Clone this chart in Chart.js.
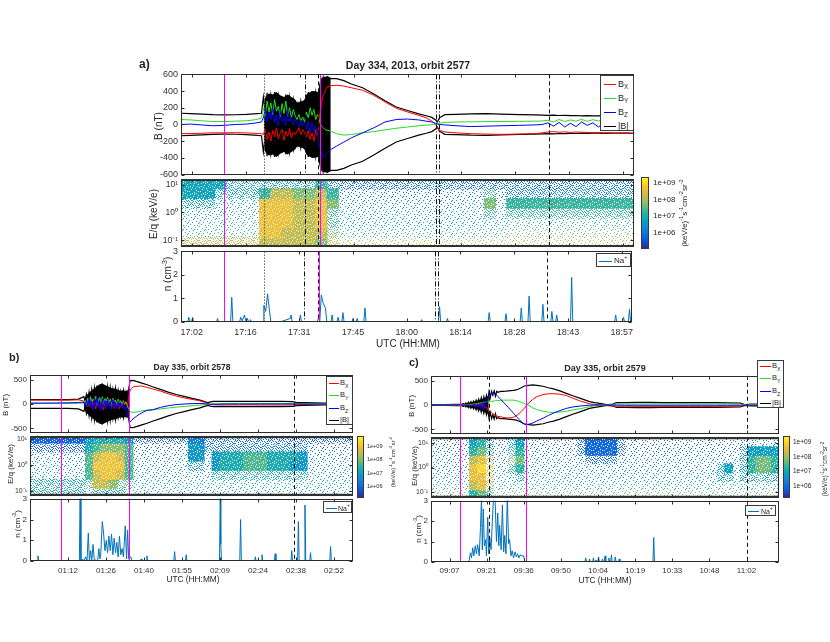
<!DOCTYPE html>
<html>
<head>
<meta charset="utf-8">
<title>Na+ observations, orbits 2577-2579</title>
<script src="https://cdn.jsdelivr.net/npm/chart.js@4.4.1/dist/chart.umd.min.js"></script>
<style>
  html, body { margin:0; padding:0; background:#fff; }
  #root { position:relative; width:830px; height:642px; overflow:hidden; background:#fff;
          font-family:"Liberation Sans", Arial, Helvetica, sans-serif; color:#262626; }
  #root canvas { position:absolute; }
  .tx { position:absolute; white-space:nowrap; line-height:1; }
  .ctr { transform:translate(-50%,-50%); }
  .lft { transform:translateY(-50%); }
  .rot { transform:translate(-50%,-50%) rotate(-90deg); }
  .lg { position:absolute; background:#fff; border:1px solid #3a3a3a; box-sizing:border-box; }
  .lg .sw { position:absolute; height:0; border-top-width:1.3px; border-top-style:solid; }
  .lg .lb { position:absolute; white-space:nowrap; line-height:1; transform:translateY(-50%); color:#262626; }
  sub, sup { font-size:70%; line-height:0; }
  .cb { position:absolute; border:1px solid #3a3a3a; box-sizing:border-box; }
</style>
</head>
<body>
<div id="root"></div>
<script>
// ======================= DATA =======================
// All times are minutes after 00:00 UTC of the given day.

// ---------- a) Day 334, 2013, orbit 2577 ----------
const tickTimesA  = [1022.4, 1036.8, 1051.2, 1065.6, 1080, 1094.4, 1108.8, 1123.2, 1137.6];
const tickLabelsA = ['17:02','17:16','17:31','17:45','18:00','18:14','18:28','18:43','18:57'];
const timeBA = [1019.5,1022,1025,1028,1031,1034,1037,1039,1041,
  1041.5,1042,1042.5,1043,1043.5,1044,1044.5,1045,1045.5,1046,1046.5,1047,1047.5,1048,1048.5,1049,1049.5,1050,
  1050.5,1051,1051.5,1052,1052.5,1053,1053.5,1054,1054.5,1055,1055.5,1056,
  1056.5,1057,1057.5,1058,1058.5,1059.5,
  1061,1063,1065,1068,1071,1074,1077,1080,1083,1085,1086.5,1087.5,1088,1088.5,
  1090,1093,1097,1101,1105,1110,1114,1116,
  1117.5,1119,1120.5,1122,1123.5,1125,1126.5,1128,1129.5,1131,1132.5,1134,1135.5,1137,1138.5,1140.5];
const bxA = [-110,-108,-105,-100,-100,-98,-100,-105,-110,
  -120,-60,-180,-90,-200,-70,-150,-40,-170,-100,-60,-190,-80,-140,-50,-160,-90,-120,
  -80,-40,-120,-60,-100,-150,-70,-180,-100,-200,-60,-150,
  100,250,350,400,450,465,
  470,460,440,410,350,270,195,150,110,80,40,0,-40,-70,
  -90,-100,-110,-115,-118,-115,-110,-100,
  -90,-85,-92,-88,-95,-90,-92,-95,-98,-95,-100,-98,-100,-102,-100,-105];
const byA = [60,55,45,35,35,40,45,55,75,
  200,100,280,150,260,120,300,160,220,90,250,130,280,100,200,80,180,100,
  60,120,40,90,30,150,80,200,110,180,60,120,
  40,-20,-40,-60,-70,-80,
  -110,-127,-120,-100,-85,-65,-45,-30,-15,-8,-2,5,10,15,
  25,30,32,35,36,38,40,42,
  50,30,60,35,55,40,62,38,58,42,60,36,55,45,50,40];
const bzA = [0,5,-5,-15,-10,0,5,15,30,
  80,180,30,150,60,200,20,120,-20,160,40,100,-10,170,30,90,0,60,
  20,-30,50,-20,30,-60,40,-100,20,-80,-20,-150,
  -250,-350,-390,-380,-350,-300,
  -260,-210,-160,-100,-40,30,60,65,55,40,30,15,5,0,
  -5,-15,-25,-20,-15,-10,-5,0,
  20,-20,25,-30,15,-25,30,-10,20,-30,25,-15,10,-20,15,5];
const btA = [135,130,125,118,115,117,122,128,135,
  330,140,380,120,350,150,390,110,340,160,300,130,360,140,330,120,300,150,
  250,120,280,110,260,130,390,150,400,120,380,200,
  450,250,560,430,575,550,
  550,525,485,440,365,285,210,168,128,105,85,55,30,80,
  118,122,128,130,125,118,115,112,
  110,112,108,110,106,108,104,106,104,104,106,104,105,104,103,105];
// outer envelope of the black |B| noise band (magnitude)
const envTimeA = [1041.6,1042,1043,1044,1045,1046,1047,1048,1049,1050,1050.5,1051,1052,1052.5,1053,1054,1055,1056,1056.5,1057,1058,1059.5];
const envA     = [250,330,370,360,390,350,330,360,330,300,260,270,280,300,360,390,400,390,420,560,575,550];
const markersA = [[1031.0,'mag'],[1041.7,'dot'],[1052.6,'dashdot'],[1056.2,'dash'],[1056.6,'mag'],
                  [1087.5,'dashdot'],[1088.4,'dashdot'],[1117.7,'dash']];
// spectrogram: 3-min bins from 16:59.5, rows = energy bands (top = highest)
// codes: '1'-'9' dense cell of flux level 1-9, 'A'-'I' medium density, 'a'-'i' sparse, '.' empty
const specA = [
  '4444DDD'+'DDD'+'DD5C'+'BBBBBBBBCBBBB'+'B'+'B'+'BBBBBBBBBBBB',
  '444DDDD'+'577'+'6675'+'bbbbbbbbbbbbb'+'E'+'b'+'CCCCCCCCCCCC',
  'DDDdddd'+'888'+'7786'+'ccccccccccccc'+'6'+'c'+'555555555555',
  'ddddddd'+'888'+'778E'+'ddddddddddddd'+'E'+'d'+'EEEEEEEEEEEE',
  'eeeeeee'+'888'+'778E'+'ddddddddddddd'+'d'+'d'+'eeeeeeeeeeee',
  'eeeeeee'+'887'+'777F'+'eeeeeeeeeeeee'+'e'+'e'+'ffffffffffff',
  'GGGGGGG'+'777'+'776G'+'ggggggggggggg'+'g'+'g'+'gggggggggggg'];
const densA = [[1019.5,0],[1021.3,0],[1021.6,0.2],[1021.9,0],[1022.3,0],[1022.6,0.2],[1022.9,0],
  [1029.0,0],[1029.3,0.15],[1029.6,0],[1032.8,0],[1033.1,1.05],[1033.4,0],
  [1035.2,0],[1035.5,0.2],[1035.9,0.05],[1036.5,0.3],[1036.9,0.05],[1037.3,0.15],[1037.6,0],
  [1037.9,0],[1038.1,0.1],[1038.4,0],
  [1041.5,0],[1041.7,0.7],[1042.2,0.45],[1042.7,1.2],[1043.2,0.5],[1043.6,0],
  [1046.0,0],[1048.8,0.15],[1049.0,0.3],[1049.3,0],[1051.2,0],[1051.5,0.3],[1051.8,0],
  [1056.0,0],[1056.3,0.15],[1056.7,0.05],[1057.1,1.15],[1057.6,0.8],[1058.2,0.6],[1058.6,0],
  [1059.7,0],[1060.0,0.3],[1060.3,0],[1061.3,0],[1061.6,0.2],[1061.9,0],[1062.6,0],[1062.9,0.4],[1063.2,0],
  [1065.3,0],[1065.6,0.15],[1065.9,0],[1066.4,0],[1066.7,0.15],[1067.0,0],[1068.5,0],[1068.8,0.6],[1069.1,0],
  [1083.7,0],[1084.0,0.1],[1084.3,0],[1088.5,0],[1088.8,0.65],[1089.1,0],[1090.6,0],[1090.9,0.15],[1091.2,0],
  [1101.8,0],[1102.1,0.4],[1102.4,0],[1106.3,0],[1106.6,0.35],[1106.9,0],[1110.4,0],[1110.7,0.6],[1111.0,0],
  [1112.5,0],[1112.8,1.1],[1113.1,0],[1116.2,0],[1116.5,0.75],[1116.8,0],[1118.6,0],[1118.9,0.45],[1119.2,0],
  [1119.9,0],[1120.2,0.3],[1120.5,0],[1123.9,0],[1124.2,1.9],[1124.5,0],[1135.7,0],[1136.0,0.3],[1136.3,0],
  [1137.8,0],[1138.1,0.2],[1138.4,0],[1139.4,0],[1139.7,0.55],[1140.0,0],[1140.5,0]];

// ---------- b) Day 335, orbit 2578 ----------
const tickTimesB  = [72, 86.4, 100.8, 115.2, 129.6, 144, 158.4, 172.8];
const tickLabelsB = ['01:12','01:26','01:40','01:55','02:09','02:24','02:38','02:52'];
const timeBB = [57.6,62,67,72,76,
  78,78.5,79,79.5,80,80.5,81,81.5,82,82.5,83,83.5,84,84.5,85,85.5,86,86.5,87,87.5,88,88.5,89,89.5,90,90.5,91,91.5,92,92.5,93,93.5,94,94.5,95,
  95.5,96,97,98.5,100,102,
  104,107,110,113,116,119,122,124,125,126,127,129,
  133,137,141,145,149,153,157,158.5,161,165,169,173,177,180];
const bxB = [80,80,80,80,85,
  60,-20,100,-60,40,-80,120,-40,80,-100,50,-60,130,-80,60,-120,100,-50,80,-30,110,-70,40,-90,90,-40,60,-100,30,-60,80,-20,50,-80,150,
  270,320,360,365,370,340,
  310,265,210,165,125,95,65,30,10,-10,-15,-20,
  -20,-20,-18,-20,-20,-22,-20,-15,-10,-10,-8,-8,-5,-5];
const byB = [10,10,12,10,15,
  20,80,-10,120,40,150,0,100,60,160,-20,90,130,30,150,-30,110,60,140,20,90,-40,120,50,80,-20,100,30,70,-10,60,0,40,-30,-100,
  -160,-170,-170,-160,-140,-125,
  -120,-100,-82,-65,-50,-35,-22,-13,-5,0,5,8,
  8,8,8,10,10,10,10,8,6,5,5,4,3,3];
const bzB = [20,20,20,25,30,
  40,-60,90,-30,120,-80,60,-120,100,-50,140,-90,80,-140,110,-60,70,-110,100,-40,60,-120,90,-70,40,-100,60,-50,20,-80,30,-120,-60,-200,-300,
  -370,-340,-290,-230,-180,-130,
  -120,-70,-35,-12,0,8,10,5,0,-5,-5,-5,
  0,0,-2,0,0,0,0,0,0,0,0,0,0,0];
const btB = [90,90,90,90,100,
  150,60,200,70,250,80,300,60,330,90,380,70,400,100,420,80,380,100,350,70,340,110,300,80,320,100,280,90,260,110,280,90,250,120,300,
  480,485,480,455,430,395,
  355,300,245,195,155,115,78,45,30,45,55,55,
  55,55,55,55,52,52,50,35,30,25,20,20,15,15];
const envTimeB = [78,79,80,81,82,83,84,85,86,87,88,89,90,91,92,93,94,95,95.5];
const envB     = [110,180,230,280,320,370,400,420,390,360,340,320,320,290,270,280,260,300,420];
const markersB = [[69.4,'mag'],[95.0,'dash'],[95.3,'mag'],[157.8,'dash']];
// 3-min bins from 00:57.6
const specB = [
  '2222222'+'455554'+'BBBBBBB'+'33B'+'BBBBBBBBBBBB'+'BBBBBB',
  'BBBBBBB'+'567776'+'bbbbbbb'+'44C'+'CCCCCCCCCCCC'+'bbbbbb',
  'ccccccc'+'689986'+'ccccccc'+'44c'+'455566655554'+'cccccc',
  'ddddddd'+'699996'+'ddddddd'+'DDd'+'455566655544'+'dddddd',
  'ddddddd'+'689986'+'ddddddd'+'ddd'+'EEEEEEEEEEEE'+'dddddd',
  'EEEEEEE'+'F887FF'+'eeeeeee'+'eee'+'eeeeeeeeeeee'+'eeeeee',
  'EEEEEEE'+'eEEEEe'+'eeeeeee'+'eee'+'eeeeeeeeeeee'+'eeeeee'];
const densB = [[57.6,0],[60.3,0],[60.6,0.25],[60.9,0],[76.3,0],[76.6,3.4],[76.9,0],[77.5,0.1],[78.0,0],
  [78.7,0.2],[79.2,0],[79.7,1.35],[80.1,0],[80.6,0.5],[81.0,0],[81.5,0.8],[82.0,0],[82.4,0.05],[83.2,0],
  [83.7,0.6],[84.1,0.1],[84.4,0.3],[85.0,1.9],[85.5,1.3],[86.0,0.5],[86.5,1.0],[87.0,0.4],[87.5,1.2],
  [88.0,0.5],[88.5,1.3],[89.0,0.3],[89.5,1.1],[90.0,0.4],[90.5,0.9],[91.0,0.2],[91.5,1.2],[92.0,0.3],
  [92.5,0.6],[93.0,0.2],[93.7,1.7],[94.2,0.1],[94.6,1.5],[95.0,0.1],[95.8,0.2],[96.3,0],
  [99.4,0],[99.7,0.1],[100.0,0],[101.6,0],[101.9,0.25],[102.2,0],[112.1,0],[112.4,0.45],[112.7,0],
  [116.5,0],[116.8,0.3],[117.1,0],[129.4,0],[129.7,3.2],[129.9,0.8],[130.2,0],[137.1,0],[137.4,2.0],[137.7,0],
  [142.7,0],[143.0,0.2],[143.3,0],[145.2,0],[145.5,0.3],[145.8,0],[150.2,0],[150.5,0.35],[150.8,0],
  [156.5,0],[156.8,0.5],[157.1,0],[159.0,0],[159.3,1.9],[159.6,0],[161.5,0],[161.8,2.7],[162.1,0],
  [163.6,0],[163.9,0.4],[164.2,0],[171.2,0],[171.5,0.7],[171.8,0],[180,0]];

// ---------- c) Day 335, orbit 2579 ----------
const tickTimesC  = [547.2, 561.6, 576, 590.4, 604.8, 619.2, 633.6, 648, 662.4];
const tickLabelsC = ['09:07','09:21','09:36','09:50','10:04','10:19','10:33','10:48','11:02'];
const timeBC = [540,545,550,552,
  552.5,553,553.5,554,554.5,555,555.5,556,556.5,557,557.5,558,558.5,559,559.5,560,560.5,561,561.5,562,
  562.5,563,563.5,564,564.5,565,565.5,566,
  567,568,569,570,571,572,573,574,575,576,577,578,579.5,581,583.5,585.5,587.5,590,592.5,595,598,601.5,603.5,605.5,607,608,609,610.5,612,
  615,620,625,630,635,640,645,650,655,660,661.5,662.5,664,668,672,675];
const bxC = [0,0,0,0,
  5,-5,10,-10,15,-10,20,-15,30,-20,25,-30,35,-20,30,-40,20,-60,-40,-100,
  -120,-140,-160,-180,-200,-215,-225,-235,
  -240,-255,-262,-265,-262,-250,-225,-185,-135,-80,-15,45,115,170,215,230,233,222,195,140,80,25,10,0,-10,-15,-15,-20,-25,
  -25,-28,-28,-28,-28,-28,-28,-28,-25,-25,-10,-5,-10,-10,-8,-8];
const byC = [0,0,0,0,
  5,0,10,-5,15,0,20,5,30,10,40,0,50,20,60,30,70,40,60,70,
  60,70,80,70,90,85,90,90,
  95,100,100,100,100,100,90,75,55,35,10,-15,-60,-95,-130,-148,-153,-145,-130,-100,-75,-35,-15,-5,0,5,8,12,18,
  20,22,22,22,22,22,22,22,22,20,10,5,10,10,10,10];
const bzC = [0,0,0,0,
  -5,5,-10,5,-15,10,-20,5,-25,15,-40,20,-50,30,-80,50,-100,80,50,150,
  210,230,240,238,235,230,200,170,
  120,60,5,-50,-110,-170,-230,-290,-340,-385,-400,-395,-370,-330,-270,-215,-167,-115,-70,-40,-20,-5,0,2,2,0,0,0,-2,
  -5,-5,-5,-5,-5,-5,-5,-5,-5,-5,0,0,-5,-5,-5,-5];
const btC = [10,10,12,15,
  30,5,40,8,55,10,70,12,80,15,100,20,120,30,150,40,170,60,200,90,
  270,150,280,200,290,180,280,260,
  280,282,285,290,295,300,310,330,355,385,400,405,412,405,385,355,330,290,240,190,135,70,50,33,20,10,8,20,47,
  50,52,52,50,50,50,50,48,45,40,15,10,20,20,18,18];
const envTimeC = [552,553,554,555,556,557,558,559,560,561,562,562.4];
const envC     = [15,25,35,50,60,75,90,110,130,150,180,190];
const markersC = [[551.4,'mag'],[562.4,'dash'],[576.7,'mag'],[662.5,'dash']];
// 3-min bins from 09:00
const specC = [
  'bbbbb'+'45D'+'bb'+'D4'+'bbbbbbb'+'B2222B'+'bbbbbbbbbbbb'+'bb'+'b'+'bbccb',
  'bbbbb'+'56E'+'bb'+'E5'+'bbbbbbb'+'B2222B'+'bbbbbbbbbbbb'+'bb'+'b'+'C4444',
  'ccccc'+'78G'+'cc'+'F6'+'ccccccc'+'bBBBBb'+'cccccccccccc'+'cc'+'c'+'D5665',
  'ccccc'+'89H'+'cc'+'E5'+'ccccccc'+'cccccc'+'cccccccccccc'+'D4'+'c'+'D5665',
  'ddddd'+'88H'+'dd'+'dD'+'ddddddd'+'dddddd'+'dddddddddddd'+'DD'+'d'+'DDEDD',
  'eeeee'+'78G'+'ee'+'ee'+'eeeeeee'+'eeeeee'+'eeeeeeeeeeee'+'ee'+'e'+'eeeee',
  'fffff'+'56E'+'ff'+'ff'+'fffffff'+'ffffff'+'ffffffffffff'+'ff'+'f'+'fffff'];
const densC = [[540,0],[554.7,0],[555.3,0.45],[555.7,0.2],[556.2,0.7],[556.6,0.3],[557.2,0.8],[557.6,0.4],
  [558.1,0.85],[558.7,0.3],[559.2,1.7],[559.6,3.2],[559.9,0.6],[560.3,2.6],[560.7,0.8],[561.2,1.1],[561.5,0.3],
  [562.0,2.2],[562.4,0.4],[562.8,1.2],[563.3,0.6],[563.8,2.0],[564.3,3.3],[564.8,3.3],[565.4,1.0],[565.9,2.4],
  [566.3,0.8],[566.6,1.8],[567.2,0.6],[567.7,2.8],[568.2,0.5],[568.6,1.3],[569.1,0.4],[569.6,3.3],[570.1,0.9],
  [570.5,1.1],[571.0,0.3],[571.5,0.55],[572.0,0.2],[572.6,0.5],[573.1,0.25],[573.6,0.4],[574.1,0.2],[574.6,0.35],
  [575.3,0.3],[575.9,0.3],[576.4,0.05],[576.7,0],
  [599.7,0],[600.0,0.2],[600.4,0],[601.2,0],[601.5,0.15],[601.8,0],[602.7,0],[603.0,0.2],[603.3,0],[603.7,0],
  [604.0,0.1],[604.3,0],[604.7,0],[605.0,0.25],[605.3,0],[606.2,0],[606.5,0.15],[606.8,0],[607.2,0],[607.5,0.3],
  [607.8,0],[608.7,0],[609.0,0.2],[609.3,0],[609.7,0],[610.0,0.35],[610.3,0],[611.2,0],[611.5,0.25],[611.8,0],
  [612.7,0],[613.0,0.15],[613.3,0],[626.1,0],[626.4,1.2],[626.7,0],[653.5,0],[653.8,0.05],[654.1,0],
  [663.1,0],[663.4,0.05],[663.7,0],[675,0]];

// ---------- shared ----------
const ENERGY_EDGES = [1.2, 0.85, 0.5, 0.15, -0.2, -0.55, -0.9, -1.25];   // log10 keV/e, band edges
const LEVEL_LOGS = [5.5, 5.95, 6.4, 6.85, 7.3, 7.75, 8.2, 8.65, 9.1];    // log10 flux of levels 1..9
const specTicks = [0.1, 1, 10];
const specTickLabels = ['10\u207B\u00B9', '10\u2070', '10\u00B9'];
const densTicks = [0, 1, 2, 3];
const bTicksA = [-600, -400, -200, 0, 200, 400, 600];
const bTicksBC = [-500, 0, 500];
const cbarTicks = [6, 7, 8, 9];
const cbarLabels = ['1e+06', '1e+07', '1e+08', '1e+09'];

// ======================= STYLE =======================
const PARULA = [[0,[53,42,135]],[0.1,[20,80,220]],[0.2,[15,112,222]],[0.3,[18,138,210]],[0.4,[8,162,195]],
  [0.5,[38,180,165]],[0.6,[105,190,125]],[0.7,[175,190,85]],[0.8,[230,185,60]],[0.9,[252,205,45]],[1,[249,251,14]]];
// speckle tiles (11x11): dots drawn for sparse / medium cells, holes left white in dense cells
const DOTS_SPARSE = [[0,0],[7,1],[3,2],[9,3],[5,4],[1,5],[8,6],[4,7],[10,8],[2,9],[6,10],[0,7],[9,10],[6,3]];
const DOTS_MEDIUM = DOTS_SPARSE.concat([[2,0],[10,1],[5,1],[0,3],[8,2],[3,4],[10,5],[6,6],[1,8],[7,8],[4,9],
  [9,7],[2,6],[4,0],[8,4],[0,10],[5,8],[3,10],[10,3],[7,5],[1,1],[5,6],[8,9],[3,7]]);
const HOLES_DENSE = [[2,1],[8,0],[5,3],[0,5],[9,4],[3,7],[7,6],[1,9],[10,9],[6,10],[4,0],[8,8],[2,4],[6,1],[10,2],[4,5]];
const MARKER_STYLES = {
  mag: {color:'#ff00ff', dash:[], width:1},
  dash: {color:'#111', dash:[4,3], width:1},
  dashdot: {color:'#111', dash:[5,2,1,2], width:1},
  dot: {color:'#666', dash:[1.5,1.5], width:1}
};
const COLORS = {bx:'#ff0000', by:'#22dd22', bz:'#0000ff', bt:'#000000', n:'#0072BD'};

const root = document.getElementById('root');
Chart.defaults.font.family = '"Liberation Sans", Arial, Helvetica, sans-serif';
Chart.defaults.color = '#333';

function parula(t) {
  t = Math.max(0, Math.min(1, t));
  for (let i = 1; i < PARULA.length; i++) {
    if (t <= PARULA[i][0]) {
      const t0 = PARULA[i-1][0], c0 = PARULA[i-1][1], t1 = PARULA[i][0], c1 = PARULA[i][1];
      const f = (t - t0) / (t1 - t0);
      return c0.map((v, k) => Math.round(v + (c1[k] - v) * f));
    }
  }
  return PARULA[PARULA.length-1][1];
}
function makePattern(ctx, rgb, dens) {
  const t = document.createElement('canvas'); t.width = 11; t.height = 11;
  const g = t.getContext('2d'); g.fillStyle = 'rgb(' + rgb.join(',') + ')';
  if (dens === 2) {
    g.fillRect(0, 0, 11, 11);
    HOLES_DENSE.forEach(d => g.clearRect(d[0], d[1], 1, 1));
  } else {
    (dens === 1 ? DOTS_MEDIUM : DOTS_SPARSE).forEach(d => g.fillRect(d[0], d[1], 1, 1));
  }
  return ctx.createPattern(t, 'repeat');
}
function cellFill(ctx, ch, cmin, cmax, cache) {
  if (ch === '.') return 'rgba(0,0,0,0)';
  if (cache[ch]) return cache[ch];
  const code = ch.charCodeAt(0);
  let lvl, dens;
  if (code >= 49 && code <= 57) { lvl = code - 48; dens = 2; }
  else if (code >= 65 && code <= 73) { lvl = code - 64; dens = 1; }
  else { lvl = code - 96; dens = 0; }
  const rgb = parula((LEVEL_LOGS[lvl-1] - cmin) / (cmax - cmin));
  const f = makePattern(ctx, rgb, dens);
  cache[ch] = f;
  return f;
}

function addText(html, x, y, size, cls, bold) {
  const d = document.createElement('div');
  d.className = 'tx ' + (cls || 'ctr');
  d.innerHTML = html;
  d.style.left = x + 'px'; d.style.top = y + 'px'; d.style.fontSize = size + 'px';
  if (bold) d.style.fontWeight = 'bold';
  root.appendChild(d);
  return d;
}
function addLegend(L, entries) {
  const b = document.createElement('div'); b.className = 'lg';
  b.style.left = L.x + 'px'; b.style.top = L.y + 'px'; b.style.width = L.w + 'px'; b.style.height = L.h + 'px';
  entries.forEach((e, i) => {
    const s = document.createElement('div'); s.className = 'sw';
    s.style.left = L.sw[0] + 'px'; s.style.width = (L.sw[1] - L.sw[0]) + 'px'; s.style.top = (L.ys[i] - 1) + 'px';
    s.style.borderTopColor = e[0];
    b.appendChild(s);
    const t = document.createElement('div'); t.className = 'lb';
    t.style.left = L.lx + 'px'; t.style.top = (L.ys[i] - 1) + 'px'; t.style.fontSize = L.font + 'px';
    t.innerHTML = e[1];
    b.appendChild(t);
  });
  root.appendChild(b);
}
function addColorbar(cb, cmin, cmax) {
  const d = document.createElement('div'); d.className = 'cb';
  d.style.left = cb.x + 'px'; d.style.top = cb.y + 'px'; d.style.width = cb.w + 'px'; d.style.height = cb.h + 'px';
  d.style.background = 'linear-gradient(to top,' + PARULA.map(s => 'rgb(' + s[1].join(',') + ') ' + (s[0]*100) + '%').join(',') + ')';
  root.appendChild(d);
  cbarTicks.forEach((v, i) => {
    const y = cb.y + cb.h - (v - cmin) / (cmax - cmin) * cb.h;
    addText(cbarLabels[i], cb.x + cb.w + cb.gap, y, cb.font, 'lft');
  });
  addText('(keV/e)<sup>-1</sup>s<sup>-1</sup>cm<sup>-2</sup>sr<sup>-2</sup>', cb.lx, cb.ly, cb.lfont, 'rot');
}

const LS = 48, RS = 4, PT = 6;
function panelCanvas(L, R, T, B, padBottom) {
  const c = document.createElement('canvas');
  const w = (R - L) + LS + RS, h = (B - T) + PT + padBottom;
  c.width = w; c.height = h;
  c.style.left = (L - LS) + 'px'; c.style.top = (T - PT) + 'px';
  root.appendChild(c);
  return c;
}
function framePlugin(xTicks, yTicks, heavy) {
  return { id: 'frame', afterDraw(chart) {
    const ctx = chart.ctx, a = chart.chartArea, sx = chart.scales.x, sy = chart.scales.y;
    const L = Math.round(a.left) + 0.5, R = Math.round(a.right) - 0.5, T = Math.round(a.top) + 0.5, B = Math.round(a.bottom) - 0.5;
    ctx.save();
    ctx.strokeStyle = '#2b2b2b'; ctx.lineWidth = 1; ctx.setLineDash([]);
    ctx.beginPath();
    xTicks.forEach(v => { const p = Math.round(sx.getPixelForValue(v)) + 0.5;
      ctx.moveTo(p, T); ctx.lineTo(p, T + 3); ctx.moveTo(p, B); ctx.lineTo(p, B - 3); });
    yTicks.forEach(v => { const p = Math.round(sy.getPixelForValue(v)) + 0.5;
      ctx.moveTo(L, p); ctx.lineTo(L + 3, p); ctx.moveTo(R, p); ctx.lineTo(R - 3, p); });
    ctx.stroke();
    ctx.strokeRect(L, T, R - L, B - T);
    if (heavy) {
      ctx.lineWidth = 2; ctx.strokeStyle = '#333';
      ctx.beginPath(); ctx.moveTo(L, a.top + 1); ctx.lineTo(R, a.top + 1);
      ctx.moveTo(L, a.bottom - 1); ctx.lineTo(R, a.bottom - 1); ctx.stroke();
    }
    ctx.restore();
  }};
}
function markerPlugin(markers) {
  return { id: 'markers', afterDatasetsDraw(chart) {
    const ctx = chart.ctx, a = chart.chartArea, sx = chart.scales.x;
    ctx.save();
    markers.forEach(m => {
      const st = MARKER_STYLES[m[1]];
      const p = Math.round(sx.getPixelForValue(m[0])) + 0.5;
      ctx.strokeStyle = st.color; ctx.lineWidth = st.width; ctx.setLineDash(st.dash);
      ctx.beginPath(); ctx.moveTo(p, a.top); ctx.lineTo(p, a.bottom); ctx.stroke();
    });
    ctx.restore();
  }};
}
function xScale(O, show) {
  return {
    type: 'linear', min: O.xmin, max: O.xmax, offset: false, display: show,
    afterFit: s => { s.height = show ? 20 : 0; },
    afterBuildTicks: s => { s.ticks = O.xTicks.map(v => ({value: v})); },
    grid: {display: false, drawTicks: false}, border: {display: false},
    ticks: {padding: O.xPad, font: {size: O.font}, color: '#333', autoSkip: false, maxRotation: 0, minRotation: 0,
            callback: (v, i) => O.xLabels[i]}
  };
}
function yScale(type, min, max, ticks, labels, font) {
  return {
    type, min, max,
    afterFit: s => { s.width = LS; },
    afterBuildTicks: s => { s.ticks = ticks.map(v => ({value: v})); },
    grid: {display: false, drawTicks: false}, border: {display: false},
    ticks: {padding: 3, font: {size: font}, color: '#333', autoSkip: false, maxRotation: 0,
            callback: (v, i) => labels[i]}
  };
}
function baseOptions(padBottom, scales) {
  return {
    responsive: false, animation: false, events: [],
    layout: {padding: {left: 0, right: RS, top: PT, bottom: padBottom}},
    plugins: {legend: {display: false}, tooltip: {enabled: false}},
    scales
  };
}
function lineSet(times, vals, color, width) {
  return {data: times.map((t, i) => ({x: t, y: vals[i]})), borderColor: color, borderWidth: width,
          pointRadius: 0, tension: 0, fill: false};
}

function buildOrbit(O) {
  // --- magnetic field panel ---
  let c = panelCanvas(O.L, O.R, O.T1, O.T2, 6);
  const envHi = lineSet(O.envTime, O.env, COLORS.bt, 0);
  envHi.fill = '+1'; envHi.backgroundColor = COLORS.bt;
  const envLo = lineSet(O.envTime, O.env.map(v => -v), COLORS.bt, 0);
  new Chart(c, {
    type: 'line',
    data: {datasets: [
      lineSet(O.time, O.bz, COLORS.bz, 1), lineSet(O.time, O.by, COLORS.by, 1), lineSet(O.time, O.bx, COLORS.bx, 1),
      lineSet(O.time, O.bt, COLORS.bt, 1.2), lineSet(O.time, O.bt.map(v => -v), COLORS.bt, 1.2),
      envHi, envLo]},
    options: baseOptions(6, {x: xScale(O, false), y: yScale('linear', -600, 600, O.bTicks, O.bTicks.map(String), O.font)}),
    plugins: [markerPlugin(O.markers), framePlugin(O.xTicks, O.bTicks, false)]
  });
  // --- spectrogram panel ---
  c = panelCanvas(O.L, O.R, O.T2, O.T3, 6);
  const ctx = c.getContext('2d');
  const cache = {};
  const specSets = O.spec.map((row, r) => {
    const lo = Math.pow(10, ENERGY_EDGES[r + 1]), hi = Math.pow(10, ENERGY_EDGES[r]);
    const data = [], bg = [];
    for (let i = 0; i < row.length; i++) {
      data.push({x: O.specStart + O.specStep * (i + 0.5), y: [lo, hi]});
      bg.push(cellFill(ctx, row[i], O.cmin, O.cmax, cache));
    }
    return {data, backgroundColor: bg, borderWidth: 0, grouped: false, barPercentage: 1, categoryPercentage: 1, inflateAmount: 0.5};
  });
  new Chart(c, {
    type: 'bar',
    data: {datasets: specSets},
    options: baseOptions(6, {x: xScale(O, false), y: yScale('logarithmic', O.emin, O.emax, specTicks, specTickLabels, O.specFont)}),
    plugins: [markerPlugin(O.markers), framePlugin(O.xTicks, specTicks, true)]
  });
  // --- density panel ---
  c = panelCanvas(O.L, O.R, O.T3, O.T4, 20);
  new Chart(c, {
    type: 'line',
    data: {datasets: [{data: O.dens.map(p => ({x: p[0], y: p[1]})), borderColor: COLORS.n, borderWidth: 1,
                       pointRadius: 0, tension: 0, fill: false}]},
    options: baseOptions(0, {x: xScale(O, true), y: yScale('linear', 0, 3, densTicks, densTicks.map(String), O.font)}),
    plugins: [markerPlugin(O.markers), framePlugin(O.xTicks, densTicks, false)]
  });
}

const ORBITS = [
  {L:181, R:634, T1:72, T2:177, T3:249, T4:322, font:9, specFont:8.5, xPad:5,
   xmin:1019.5, xmax:1140.5, xTicks:tickTimesA, xLabels:tickLabelsA,
   time:timeBA, bx:bxA, by:byA, bz:bzA, bt:btA, envTime:envTimeA, env:envA, bTicks:bTicksA, markers:markersA,
   spec:specA, specStart:1019.5, specStep:3, emin:0.0575, emax:15.85, cmin:5.04, cmax:9.36, dens:densA},
  {L:30, R:353, T1:373, T2:435, T3:497, T4:561, font:8, specFont:7, xPad:5,
   xmin:57.6, xmax:180, xTicks:tickTimesB, xLabels:tickLabelsB,
   time:timeBB, bx:bxB, by:byB, bz:bzB, bt:btB, envTime:envTimeB, env:envB, bTicks:bTicksBC, markers:markersB,
   spec:specB, specStart:57.6, specStep:3, emin:0.0646, emax:12.9, cmin:5.17, cmax:9.83, dens:densB},
  {L:431, R:779, T1:374, T2:436, T3:499, T4:562, font:8, specFont:7, xPad:4,
   xmin:540, xmax:675, xTicks:tickTimesC, xLabels:tickLabelsC,
   time:timeBC, bx:bxC, by:byC, bz:bzC, bt:btC, envTime:envTimeC, env:envC, bTicks:bTicksBC, markers:markersC,
   spec:specC, specStart:540, specStep:3, emin:0.0575, emax:17.4, cmin:5.18, cmax:9.41, dens:densC}
];
ORBITS.forEach(buildOrbit);

// ======================= TEXT, LEGENDS, COLORBARS =======================
const bLegend = [[COLORS.bx, 'B<sub>X</sub>'], [COLORS.by, 'B<sub>Y</sub>'], [COLORS.bz, 'B<sub>Z</sub>'], [COLORS.bt, '|B|']];
const nLegend = [[COLORS.n, 'Na<sup>+</sup>']];

// a)
addText('a)', 139, 64, 12, 'lft', true);
addText('Day 334, 2013, orbit 2577', 408, 65, 10.5, 'ctr', true);
addText('B (nT)', 159, 126, 10, 'rot');
addText('E/q (keV/e)', 154, 214, 10, 'rot');
addText('n (cm<sup>-3</sup>)', 168, 274, 10, 'rot');
addText('UTC (HH:MM)', 408, 344, 10, 'ctr');
addLegend({x:600, y:75, w:34, h:56, sw:[3,15], lx:17, ys:[9,23,37,51], font:9}, bLegend);
addLegend({x:596, y:253, w:35, h:14, sw:[2,15], lx:17, ys:[7.5], font:8}, nLegend);
addColorbar({x:641, y:177, w:8, h:72, gap:4, font:8, lx:685, ly:213, lfont:8}, 5.04, 9.36);

// b)
addText('b)', 9, 357, 11, 'lft', true);
addText('Day 335, orbit 2578', 192, 367, 8.5, 'ctr', true);
addText('B (nT)', 6, 405, 8, 'rot');
addText('E/q (keV/e)', 11, 464, 8, 'rot');
addText('n (cm<sup>-3</sup>)', 18, 524, 8, 'rot');
addText('UTC (HH:MM)', 193, 579, 8.3, 'ctr');
addLegend({x:326, y:376, w:27, h:49, sw:[2,12], lx:13, ys:[7,19,32,44], font:7.5}, bLegend);
addLegend({x:323, y:501, w:29, h:12, sw:[2,13], lx:14, ys:[6.5], font:7}, nLegend);
addColorbar({x:357, y:436, w:7, h:62, gap:3, font:5.5, lx:393, ly:462, lfont:6}, 5.17, 9.83);

// c)
addText('c)', 409, 362, 11, 'lft', true);
addText('Day 335, orbit 2579', 605, 368, 9, 'ctr', true);
addText('B (nT)', 412, 406, 8, 'rot');
addText('E/q (keV/e)', 415, 466, 8, 'rot');
addText('n (cm<sup>-3</sup>)', 419, 529, 8, 'rot');
addText('UTC (HH:MM)', 605, 580, 8.3, 'ctr');
addLegend({x:757, y:360, w:27, h:48, sw:[2,13], lx:14, ys:[6,18,31,43], font:7.5}, bLegend);
addLegend({x:745, y:505, w:31, h:11, sw:[2,13], lx:15, ys:[6], font:7}, nLegend);
addColorbar({x:783, y:436, w:7, h:62, gap:3, font:6.5, lx:825, ly:469, lfont:6.5}, 5.18, 9.41);
</script>
</body>
</html>
